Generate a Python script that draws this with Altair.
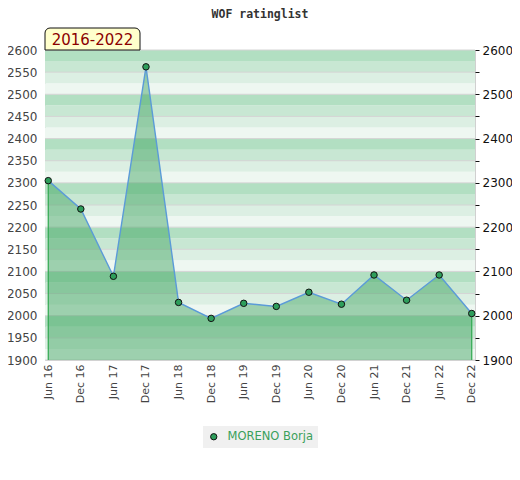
import altair as alt
import pandas as pd

periods = ["Jun 16", "Dec 16", "Jun 17", "Dec 17", "Jun 18", "Dec 18", "Jun 19",
           "Dec 19", "Jun 20", "Dec 20", "Jun 21", "Dec 21", "Jun 22", "Dec 22"]
ratings = [2305, 2241, 2089, 2562, 2030, 1994, 2028, 2021, 2053, 2026, 2092, 2035, 2092, 2005]
player = "MORENO Borja"
y_ticks = list(range(1900, 2601, 50))
stripe_lows = list(range(1900, 2600, 25))
stripe_colors = ["#b2dfc2", "#c8e7d3", "#dcefe3", "#eef7f1"]

W, H = 430, 310
YMIN, YMAX = 1900, 2600

df = pd.DataFrame({"period": periods, "rating": ratings, "player": player})
df["base"] = YMIN
stripes = pd.DataFrame({"lo": stripe_lows})
stripes["hi"] = stripes["lo"] + 25
stripes["shade"] = ((YMAX - stripes["hi"]) // 25) % 4
grid = pd.DataFrame({"v": y_ticks})
edges = df.iloc[[0, len(df) - 1]]

yscale = alt.Scale(domain=[YMIN, YMAX], nice=False, zero=False)
xscale = alt.Scale(domain=periods, type="point", padding=0.1)


def xaxis():
    return alt.Axis(title=None, labelAngle=270, labelColor="#444", labelFontSize=11,
                    labelFont="DejaVu Sans", ticks=False, domain=False, labelPadding=4,
                    labelAlign="right", labelBaseline="middle", grid=False)


X = alt.X("period:O", scale=xscale, axis=xaxis(), sort=periods)

stripe_layer = alt.Chart(stripes).mark_rect().encode(
    x=alt.value(0), x2=alt.value(W),
    y=alt.Y("lo:Q", scale=yscale, axis=None), y2="hi:Q",
    fill=alt.Fill("shade:O", scale=alt.Scale(domain=[0, 1, 2, 3], range=stripe_colors), legend=None),
)

grid_layer = alt.Chart(grid).mark_rule(color="#d4d4d4", strokeWidth=1).encode(
    y=alt.Y("v:Q", scale=yscale, axis=None)
)

area_layer = alt.Chart(df).mark_area(color="#329e55", opacity=0.43, clip=True).encode(
    x=X,
    y=alt.Y("rating:Q", scale=yscale,
            axis=alt.Axis(title=None, values=y_ticks, orient="left", labelColor="#444",
                          labelFontSize=12, labelFont="DejaVu Sans", ticks=False, format="d",
                          domain=False, grid=False, labelPadding=8)),
)

edge_layer = alt.Chart(edges).mark_rule(color="#2fa84f", strokeWidth=1.2).encode(
    x=X,
    y=alt.Y("rating:Q", scale=yscale, axis=None), y2="base:Q",
)

line_layer = alt.Chart(df).mark_line(color="#5b9bd8", strokeWidth=1.4).encode(
    x=X,
    y=alt.Y("rating:Q", scale=yscale, axis=None),
)

point_layer = alt.Chart(df).mark_point(filled=True, size=42, stroke="#111", strokeWidth=1,
                                       opacity=1).encode(
    x=X,
    y=alt.Y("rating:Q", scale=yscale,
            axis=alt.Axis(title=None, values=y_ticks, orient="right", labelColor="#111",
                          labelFontSize=12, labelFont="DejaVu Sans", ticks=True, format="d",
                          tickColor="#111", tickSize=4, domain=False, grid=False,
                          labelPadding=3,
                          labelExpr="datum.value % 100 == 0 ? datum.label : ''")),
    color=alt.Color("player:N", scale=alt.Scale(range=["#2e9e5b"]),
                    legend=alt.Legend(title=None, orient="none", legendX=158, legendY=376,
                                      fillColor="#f0f0f0", padding=5,
                                      labelColor="#3aa05a", labelFontSize=11.5,
                                      labelFont="DejaVu Sans", labelOffset=8,
                                      symbolType="circle", symbolSize=40,
                                      symbolStrokeColor="#111", symbolStrokeWidth=1,
                                      symbolFillColor="#2e9e5b")),
)

badge_box = alt.Chart(df.iloc[[0]]).mark_rect(
    fill="#ffffcc", stroke="#111", strokeWidth=1,
    cornerRadiusTopLeft=5, cornerRadiusTopRight=5, clip=False
).encode(x=alt.value(0), x2=alt.value(95), y=alt.value(-22), y2=alt.value(0))

badge_text = alt.Chart(df.iloc[[0]]).mark_text(
    text="2016-2022", color="#8b0000", fontSize=15, font="DejaVu Sans", clip=False
).encode(x=alt.value(47.5), y=alt.value(-10))

chart = alt.layer(
    stripe_layer, grid_layer, area_layer, edge_layer, line_layer, point_layer,
    badge_box, badge_text
).resolve_axis(y="independent").resolve_scale(y="shared").properties(
    width=W, height=H,
    title=alt.TitleParams("WOF ratinglist", font="DejaVu Sans Mono", fontSize=11.5,
                          fontWeight="bold", color="#333", offset=7, anchor="middle"),
    autosize=alt.AutoSizeParams(type="none"),
    padding={"left": 37, "top": 42, "right": 37, "bottom": 100},
).configure_view(stroke="#d0d0d0")

chart.save("out.html", embed_options={"renderer": "svg", "actions": False})
